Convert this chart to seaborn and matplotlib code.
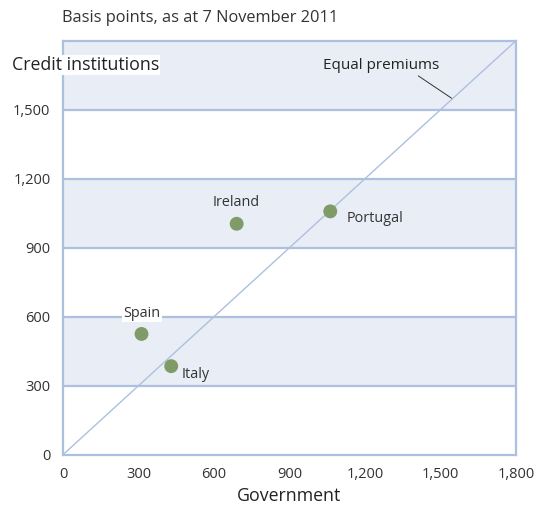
import matplotlib
matplotlib.use("Agg")
import matplotlib.pyplot as plt
import seaborn as sns
import pandas as pd

countries = ["Spain", "Italy", "Ireland", "Portugal"]
government = [312, 430, 690, 1062]
credit_institutions = [525, 385, 1004, 1058]
ticks = [0, 300, 600, 900, 1200, 1500, 1800]
tick_labels = ["0", "300", "600", "900", "1,200", "1,500", "1,800"]
bands = [(300, 600), (900, 1200), (1500, 1800)]

df = pd.DataFrame({"country": countries, "gov": government, "ci": credit_institutions})

sns.set_theme(style="white")
plt.rcParams['font.family'] = ['Open Sans', 'DejaVu Sans']

LINE = "#adc0df"
BAND = "#e9eef6"
TEXT = "#333333"
GREEN = "#7e9b68"

fig = plt.figure(figsize=(5.39, 5.08), dpi=100)
ax = fig.add_axes([63/539, 1 - 454.7/508, 453/539, 414/508])

for lo, hi in bands:
    ax.axhspan(lo, hi, color=BAND, zorder=0, lw=0)
for t in ticks[1:-1]:
    ax.axhline(t, color=LINE, lw=1.6, zorder=1)

ax.plot([0, 1800], [0, 1800], color=LINE, lw=1.0, zorder=2)

sns.scatterplot(data=df, x="gov", y="ci", ax=ax, color=GREEN, s=100,
                edgecolor="none", zorder=4, legend=False)

offsets = {
    "Spain": (0, 90, "center", "center", True),
    "Italy": (40, -35, "left", "center", False),
    "Ireland": (0, 92, "center", "center", False),
    "Portugal": (65, -30, "left", "center", False),
}
for c, x, y in zip(countries, government, credit_institutions):
    dx, dy, ha, va, box = offsets[c]
    kw = {}
    if box:
        kw["bbox"] = dict(facecolor="white", edgecolor="none", pad=1.0)
    ax.text(x + dx, y + dy, c, ha=ha, va=va, fontsize=10.4, color=TEXT, zorder=5, **kw)

ax.annotate("Equal premiums", xy=(1544, 1550), xytext=(1263, 1694),
            ha="center", va="center", fontsize=11, color="#222222",
            arrowprops=dict(arrowstyle="-", color="#333333", lw=0.7,
                            shrinkA=0, shrinkB=0,
                            relpos=(0.78, 0.0)))

ax.set_xlim(0, 1800)
ax.set_ylim(0, 1800)
ax.set_xticks(ticks)
ax.set_xticklabels(tick_labels)
ax.set_yticks(ticks[:-1])
ax.set_yticklabels(tick_labels[:-1])
ax.tick_params(axis="x", direction="inout", length=15, width=1.6, color=LINE,
               labelsize=10.5, labelcolor=TEXT, pad=1)
ax.tick_params(axis="y", length=0, labelsize=10.5, labelcolor=TEXT, pad=9)
for s in ax.spines.values():
    s.set_color(LINE)
    s.set_linewidth(1.6)
ax.set_xlabel("Government", fontsize=12.8, color="#222222", labelpad=4)
ax.set_ylabel("")

fig.text(62/539, 1 - 18/508, "Basis points, as at 7 November 2011",
         ha="left", va="center", fontsize=11.8, color=TEXT)
fig.text(12/539, 1 - 65/508, "Credit institutions", ha="left", va="center",
         fontsize=12.8, color="#222222",
         bbox=dict(facecolor="white", edgecolor="none", pad=0.5))

fig.savefig("out.png", dpi=100)
